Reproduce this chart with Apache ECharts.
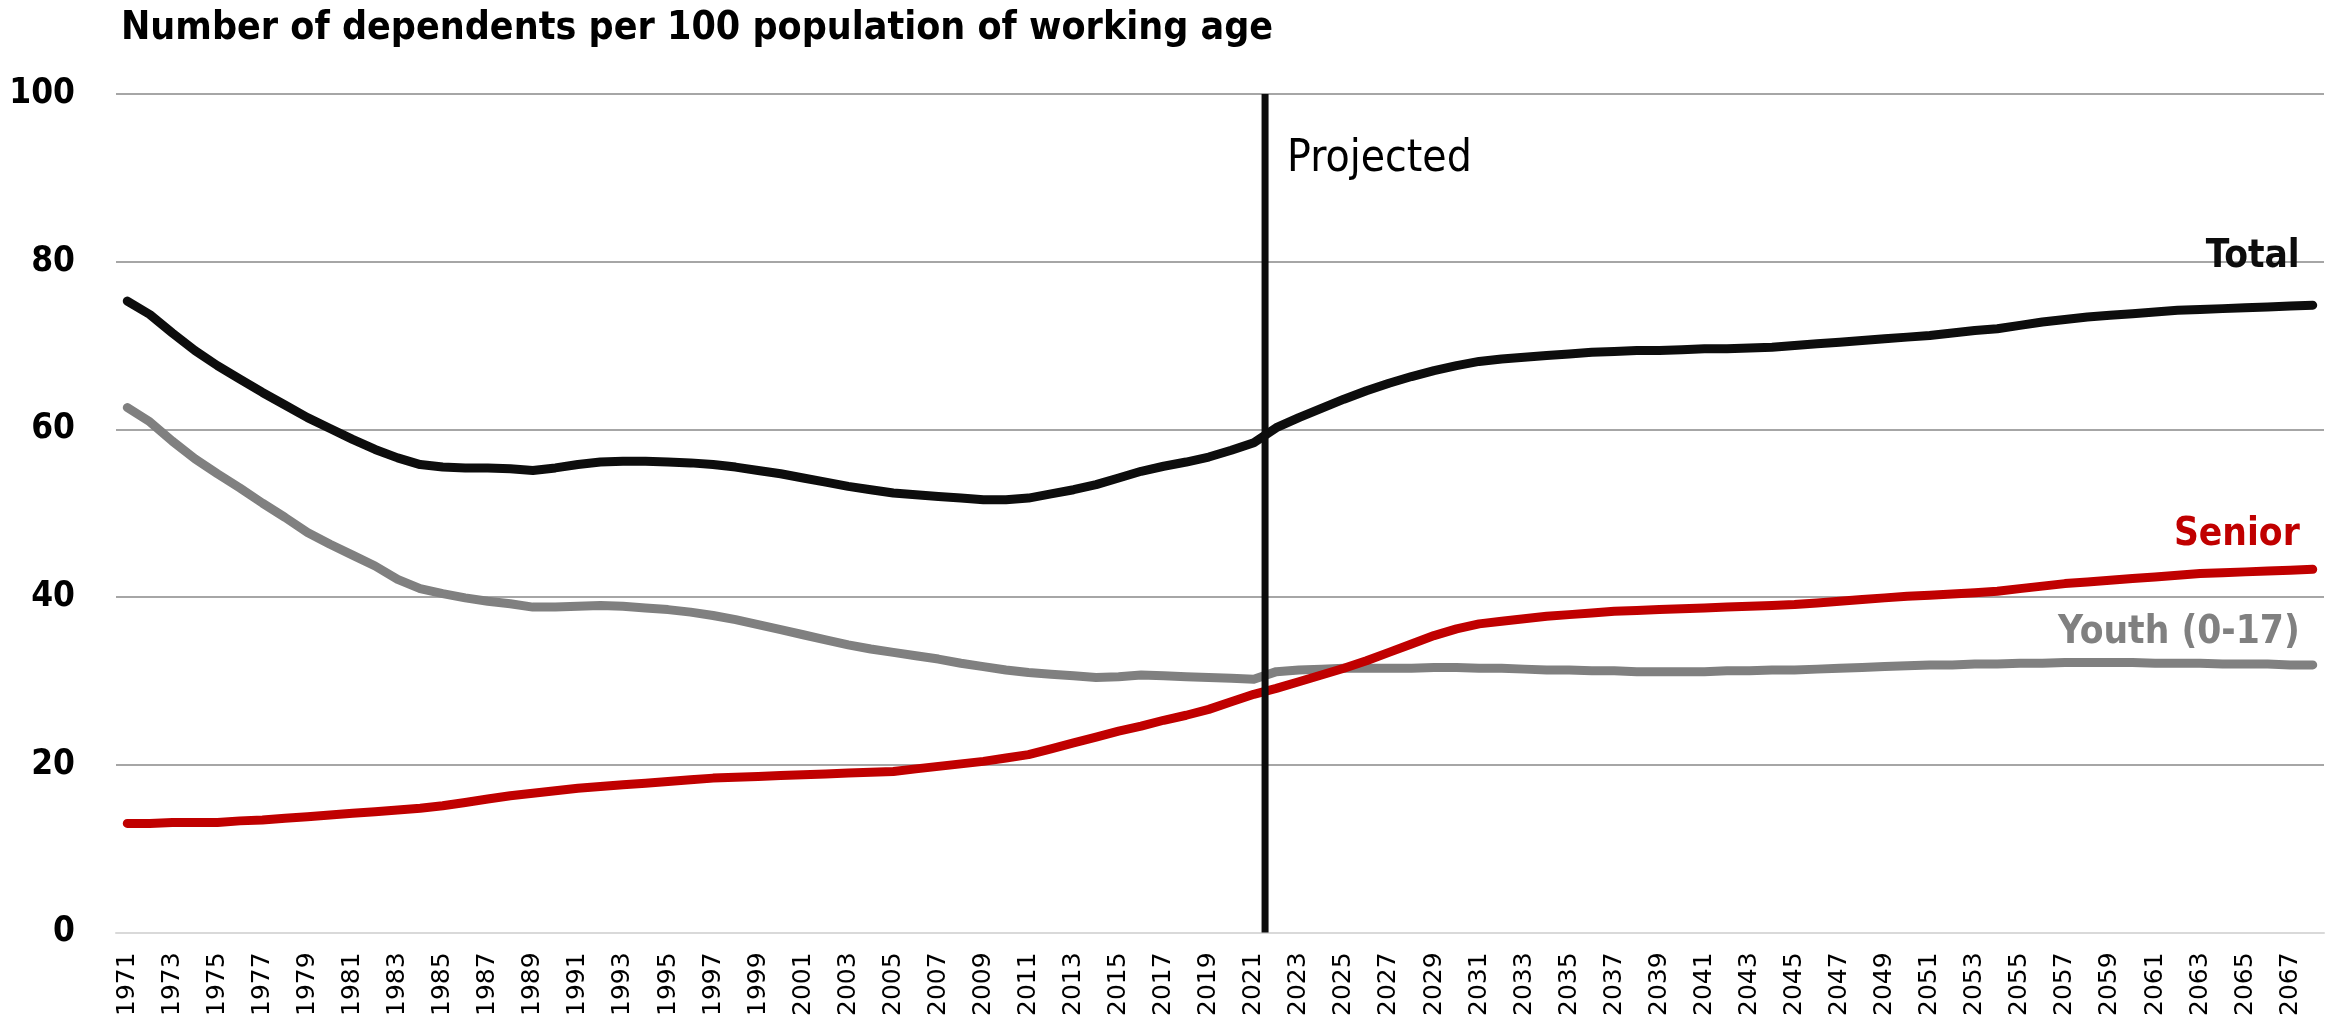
<!DOCTYPE html>
<html>
<head>
<meta charset="utf-8">
<script src="https://cdn.jsdelivr.net/npm/echarts@6/dist/echarts.min.js"></script>
<style>
html,body{margin:0;padding:0;background:#fff;}
#chart{width:2336px;height:1019px;}
</style>
</head>
<body>
<div id="chart"></div>
<script>
const years = ['1971','1972','1973','1974','1975','1976','1977','1978','1979','1980',
'1981','1982','1983','1984','1985','1986','1987','1988','1989','1990',
'1991','1992','1993','1994','1995','1996','1997','1998','1999','2000',
'2001','2002','2003','2004','2005','2006','2007','2008','2009','2010',
'2011','2012','2013','2014','2015','2016','2017','2018','2019','2020',
'2021','2022','2023','2024','2025','2026','2027','2028','2029','2030',
'2031','2032','2033','2034','2035','2036','2037','2038','2039','2040',
'2041','2042','2043','2044','2045','2046','2047','2048','2049','2050',
'2051','2052','2053','2054','2055','2056','2057','2058','2059','2060',
'2061','2062','2063','2064','2065','2066','2067','2068'];

const total = [75.3,73.7,71.5,69.4,67.6,66.0,64.4,62.9,61.4,60.1,
58.8,57.6,56.6,55.8,55.5,55.4,55.4,55.3,55.1,55.4,
55.8,56.1,56.2,56.2,56.1,56.0,55.8,55.5,55.1,54.7,
54.2,53.7,53.2,52.8,52.4,52.2,52.0,51.8,51.6,51.6,
51.8,52.3,52.8,53.4,54.2,55.0,55.6,56.1,56.7,57.5,
58.4,60.2,61.4,62.5,63.6,64.6,65.5,66.3,67.0,67.6,
68.1,68.4,68.6,68.8,69.0,69.2,69.3,69.4,69.4,69.5,
69.6,69.6,69.7,69.8,70.0,70.2,70.4,70.6,70.8,71.0,
71.2,71.5,71.8,72.0,72.4,72.8,73.1,73.4,73.6,73.8,
74.0,74.2,74.3,74.4,74.5,74.6,74.7,74.8];

const youth = [62.6,60.9,58.6,56.5,54.7,53.0,51.2,49.5,47.7,46.3,
45.0,43.7,42.1,41.0,40.4,39.9,39.5,39.2,38.8,38.8,
38.9,39.0,38.9,38.7,38.5,38.2,37.8,37.3,36.7,36.1,
35.5,34.9,34.3,33.8,33.4,33.0,32.6,32.1,31.7,31.3,
31.0,30.8,30.6,30.4,30.5,30.7,30.6,30.5,30.4,30.3,
30.2,31.1,31.3,31.4,31.5,31.5,31.5,31.5,31.6,31.6,
31.5,31.5,31.4,31.3,31.3,31.2,31.2,31.1,31.1,31.1,
31.1,31.2,31.2,31.3,31.3,31.4,31.5,31.6,31.7,31.8,
31.9,31.9,32.0,32.0,32.1,32.1,32.2,32.2,32.2,32.2,
32.1,32.1,32.1,32.0,32.0,32.0,31.9,31.9];

const senior = [13.0,13.0,13.1,13.1,13.1,13.3,13.4,13.6,13.8,14.0,
14.2,14.4,14.6,14.8,15.1,15.5,15.9,16.3,16.6,16.9,
17.2,17.4,17.6,17.8,18.0,18.2,18.4,18.5,18.6,18.7,
18.8,18.9,19.0,19.1,19.2,19.5,19.8,20.1,20.4,20.8,
21.2,21.9,22.6,23.3,24.0,24.6,25.3,25.9,26.6,27.5,
28.4,29.1,29.9,30.7,31.5,32.4,33.4,34.4,35.4,36.2,
36.8,37.1,37.4,37.7,37.9,38.1,38.3,38.4,38.5,38.6,
38.7,38.8,38.9,39.0,39.1,39.3,39.5,39.7,39.9,40.1,
40.2,40.35,40.5,40.7,41.0,41.3,41.6,41.8,42.0,42.2,
42.4,42.6,42.8,42.9,43.0,43.1,43.2,43.3];

const yTicks = [0, 20, 40, 60, 80, 100];
const projectedBoundary = 2021.5;   // between last observed (2021) and first projected (2022) year
const projectedLine = [[projectedBoundary, 0], [projectedBoundary, 100]];

const narrow = "'Liberation Sans Narrow','DejaVu Sans Condensed','Noto Sans',sans-serif";

const chart = echarts.init(document.getElementById('chart'), null, {renderer: 'canvas'});

function lineSeries(name, data, color, labelText, offset) {
  return {
    name: name,
    type: 'line',
    data: data,
    showSymbol: false,
    symbol: 'none',
    smooth: false,
    lineStyle: {color: color, width: 9, cap: 'round', join: 'round'},
    endLabel: {
      show: true,
      formatter: labelText,
      color: color,
      fontFamily: narrow,
      fontWeight: 'bold',
      fontSize: 38.5,
      align: 'right',
      verticalAlign: 'middle',
      distance: 0,
      offset: offset
    },
    emphasis: {disabled: true},
    z: 3
  };
}

const option = {
  animation: false,
  backgroundColor: '#fff',
  title: {
    text: 'Number of dependents per 100 population of working age',
    left: 116,
    top: 4,
    textStyle: {fontFamily: narrow, fontWeight: 'bold', fontSize: 39, color: '#000'}
  },
  grid: {left: 116, right: 12, top: 94, bottom: 86, containLabel: false},
  xAxis: [{
    type: 'category',
    data: years,
    boundaryGap: true,
    axisLine: {lineStyle: {color: '#d9d9d9', width: 2}},
    axisTick: {show: false},
    axisLabel: {interval: 1, rotate: 90, fontFamily: 'DejaVu Sans', fontSize: 25, color: '#000', margin: 20}
  }, {
    type: 'value',
    min: 1970.5,
    max: 2068.5,
    show: false
  }],
  yAxis: {
    type: 'value',
    min: yTicks[0],
    max: yTicks[yTicks.length - 1],
    interval: 20,
    axisLine: {show: false},
    axisTick: {show: false},
    axisLabel: {fontFamily: narrow, fontWeight: 'bold', fontSize: 35, color: '#000', margin: 41},
    splitLine: {lineStyle: {color: '#a6a6a6', width: 2}}
  },
  series: [
    lineSeries('Youth (0-17)', youth, '#808080', 'Youth (0-17)', [-13, -32]),
    lineSeries('Senior', senior, '#c00000', 'Senior', [-13, -34]),
    lineSeries('Total', total, '#0d0d0d', 'Total', [-13, -48]),
    {
      name: 'Projected',
      type: 'line',
      xAxisIndex: 1,
      data: projectedLine,
      showSymbol: false,
      symbol: 'none',
      lineStyle: {color: '#0d0d0d', width: 7},
      endLabel: {
        show: true,
        formatter: 'Projected',
        color: '#000',
        fontFamily: narrow,
        fontWeight: 'normal',
        fontSize: 44,
        align: 'left',
        verticalAlign: 'middle',
        distance: 0,
        offset: [22, 66]
      },
      emphasis: {disabled: true},
      z: 4
    }
  ]
};
chart.setOption(option);
</script>
</body>
</html>
